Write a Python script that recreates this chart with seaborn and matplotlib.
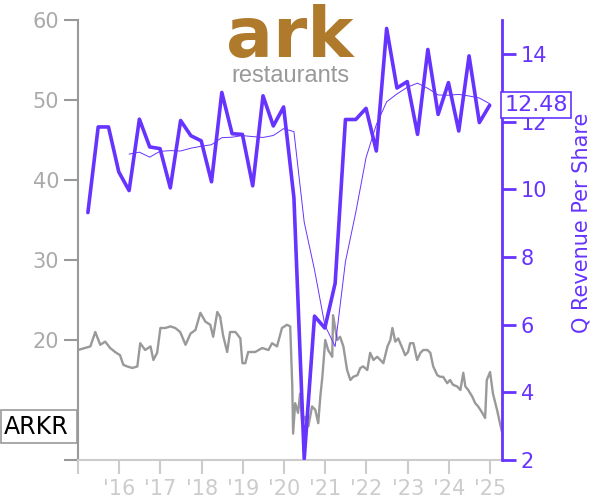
import pandas as pd
import numpy as np
import matplotlib
matplotlib.use('Agg')
import matplotlib.pyplot as plt
from matplotlib.patches import Rectangle
import seaborn as sns

# Daily-ish share price, decimal years
price_dates = [2015.00, 2015.30, 2015.42, 2015.54, 2015.66, 2015.78, 2015.90, 2016.02, 2016.10, 2016.19,
               2016.32, 2016.44, 2016.51, 2016.63, 2016.76, 2016.83, 2016.92, 2017.00, 2017.12, 2017.24,
               2017.36, 2017.48, 2017.61, 2017.73, 2017.85, 2017.97, 2018.09, 2018.21, 2018.28, 2018.38,
               2018.45, 2018.52, 2018.62, 2018.69, 2018.82, 2018.94, 2018.99, 2019.06, 2019.13, 2019.30,
               2019.47, 2019.62, 2019.71, 2019.83, 2019.95, 2020.07, 2020.15, 2020.20, 2020.22, 2020.27,
               2020.34, 2020.39, 2020.44, 2020.51, 2020.59, 2020.68, 2020.76, 2020.83, 2020.88, 2020.93,
               2021.00, 2021.07, 2021.17, 2021.19, 2021.29, 2021.36, 2021.44, 2021.53, 2021.61, 2021.68,
               2021.78, 2021.85, 2021.92, 2022.02, 2022.09, 2022.17, 2022.26, 2022.34, 2022.41, 2022.51,
               2022.58, 2022.63, 2022.70, 2022.77, 2022.87, 2022.94, 2023.01, 2023.06, 2023.14, 2023.23,
               2023.31, 2023.38, 2023.48, 2023.55, 2023.62, 2023.72, 2023.79, 2023.86, 2023.96, 2024.03,
               2024.10, 2024.20, 2024.28, 2024.35, 2024.40, 2024.47, 2024.57, 2024.64, 2024.71, 2024.81,
               2024.88, 2024.92, 2025.00, 2025.07, 2025.17, 2025.24, 2025.29]
price_values = [18.75, 19.2, 21.0, 19.4, 19.8, 19.0, 18.5, 18.1, 16.9, 16.7,
                16.5, 16.7, 19.6, 18.75, 19.2, 17.5, 18.4, 21.5, 21.5, 21.7,
                21.5, 21.0, 19.4, 20.8, 21.25, 23.4, 22.3, 21.9, 20.4, 23.5,
                22.9, 20.6, 18.5, 21.0, 21.0, 20.2, 17.1, 17.1, 18.5, 18.5,
                19.0, 18.75, 19.6, 19.2, 21.5, 21.9, 21.7, 14.2, 8.3, 12.1,
                10.9, 13.3, 9.6, 10.4, 9.2, 11.7, 11.25, 9.6, 12.9, 15.4,
                20.0, 18.75, 17.9, 23.1, 20.0, 20.4, 19.2, 16.25, 15.0, 15.4,
                15.6, 16.5, 16.7, 16.25, 18.4, 17.5, 17.9, 17.5, 17.1, 19.2,
                20.0, 21.5, 19.8, 20.2, 19.0, 18.1, 18.5, 19.6, 19.6, 17.5,
                18.4, 18.75, 18.75, 18.4, 16.7, 15.6, 15.4, 15.4, 14.6, 15.0,
                14.4, 14.2, 13.75, 15.9, 14.2, 13.75, 12.9, 12.1, 11.7, 10.9,
                10.25, 15.0, 16.0, 13.3, 11.25, 9.6, 8.5]

# Quarterly revenue per share
quarters = pd.period_range('2015Q1', '2024Q4', freq='Q')
rev_values = [9.31, 11.84, 11.84, 10.51, 9.96, 12.07, 11.25, 11.2, 10.04, 12.03,
              11.58, 11.43, 10.22, 12.86, 11.64, 11.62, 10.1, 12.76, 11.87, 12.43,
              9.75, 2.04, 6.25, 5.9, 7.22, 12.06, 12.06, 12.39, 11.13, 14.75,
              12.99, 13.18, 11.62, 14.13, 12.21, 13.15, 11.72, 13.94, 11.97, 12.48]

year_ticks = list(range(2015, 2026))
year_labels = [''] + ["'" + str(y)[2:] for y in year_ticks[1:]]

purple = '#6633ff'
gray = '#999999'
light = '#cccccc'

price = pd.DataFrame({'t': price_dates, 'price': price_values})
rev = pd.DataFrame({'t': quarters.year + quarters.quarter / 4 - 0.01, 'rev': rev_values})
# trailing 4-quarter average (thin line)
rev['ttm'] = rev['rev'].rolling(4).mean()
rev.loc[:3, 'ttm'] = np.nan

sns.set_theme(style='white')
plt.rcParams['font.family'] = ['DejaVu Sans']

fig = plt.figure(figsize=(6, 5), dpi=100)
ax = fig.add_axes([0.13, 0.08, 0.7067, 0.88])
ax2 = ax.twinx()

sns.lineplot(data=price, x='t', y='price', ax=ax, color=gray, linewidth=1.7)
sns.lineplot(data=rev, x='t', y='rev', ax=ax2, color=purple, linewidth=2.6)
sns.lineplot(data=rev, x='t', y='ttm', ax=ax2, color=purple, linewidth=0.7)

ax.set_xlim(2015.0, 2025.29)
ax.set_ylim(5, 60)
ax2.set_ylim(2, 15)

ax.set_xticks(year_ticks)
ax.set_xticklabels(year_labels)
ax.set_yticks([5, 20, 30, 40, 50, 60])
ax.set_yticklabels(['', '20', '30', '40', '50', '60'])
ax2.set_yticks(range(2, 15, 2))

ax.set_xlabel('')
ax.set_ylabel('')
ax2.set_xlabel('')
ax2.set_ylabel('Q Revenue Per Share', color=purple, fontsize=15)
ax2.yaxis.set_label_coords(1.165, 0.54)

for s in ['top', 'right']:
    ax.spines[s].set_visible(False)
for s in ['top', 'left', 'bottom']:
    ax2.spines[s].set_visible(False)
ax.spines['left'].set_color(gray)
ax.spines['left'].set_linewidth(1.5)
ax.spines['bottom'].set_color(light)
ax.spines['bottom'].set_linewidth(1.5)
ax2.spines['right'].set_color(purple)
ax2.spines['right'].set_linewidth(2)

ax.tick_params(axis='y', colors=gray, labelcolor='#aaaaaa', labelsize=15, length=10, width=1.5, left=True)
ax.tick_params(axis='x', colors=light, labelcolor=light, labelsize=15, length=10, width=1.5, bottom=True)
ax2.tick_params(axis='y', colors=purple, labelcolor=purple, labelsize=15, length=10, width=2, right=True)

# last value box on right axis
ax2.text(1.005, rev_values[-1], f'{rev_values[-1]:.2f}', transform=ax2.get_yaxis_transform(),
         color=purple, fontsize=16, ha='left', va='center',
         bbox=dict(boxstyle='square,pad=0.14', facecolor='white', edgecolor=purple, linewidth=1.2))

# ticker box on left
fig.patches.append(Rectangle((0.001, 1 - 443 / 500), 0.128, 33 / 500, transform=fig.transFigure,
                             facecolor='white', edgecolor=gray, linewidth=1.2, zorder=5))
fig.text(0.006, 1 - 427 / 500, 'ARKR', color='black', fontsize=17, ha='left', va='center', zorder=6)

# logo
fig.text(0.4833, 1 - 57 / 500, 'ark', color='#b07a2c', fontsize=50, fontweight='bold',
         ha='center', va='baseline')
fig.text(0.4833, 1 - 82 / 500, 'restaurants', color='#999999', fontsize=17,
         family='Liberation Sans', ha='center', va='baseline')

fig.savefig('out.png', dpi=100)
